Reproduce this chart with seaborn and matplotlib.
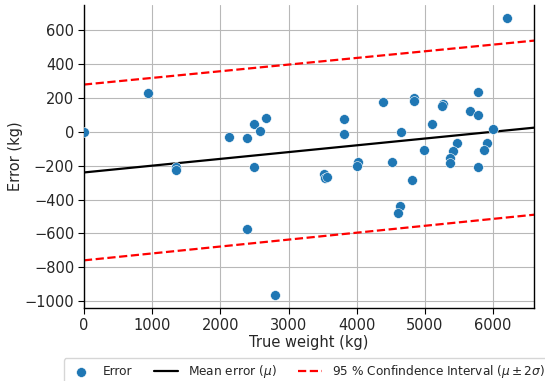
import numpy as np
import pandas as pd
import matplotlib
matplotlib.use("Agg")
import matplotlib.pyplot as plt
import seaborn as sns

# Scatter data: true weight (kg) and error (kg)
true_weight = [0, 940, 1346, 1346, 2125, 2398, 2487, 2580, 2668, 2487,
               2398, 2805, 6207, 5771, 4386, 4846, 4836, 5267, 5247, 5663,
               5771, 3808, 3808, 5110, 4651, 5996, 4988, 5473, 5408, 5364,
               5364, 5908, 5869, 5771, 4019, 4009, 4513, 3520, 3529, 3564,
               4806, 4630, 4606]
error = [0, 233, -205, -225, -30, -34, 49, 8, 83, -205,
         -576, -966, 672, 237, 178, 201, 182, 166, 154, 126,
         101, 79, -12, 49, -2, 20, -105, -67, -112, -154,
         -185, -67, -106, -205, -178, -199, -179, -249, -270, -266,
         -282, -440, -477]

# Line endpoints
line_x = [0, 6600]
mean_y = [-240, 25]
upper_y = [280, 540]
lower_y = [-760, -490]

df = pd.DataFrame({"x": true_weight, "y": error})

sns.set_style("whitegrid")
plt.rcParams["font.family"] = ["DejaVu Sans"]

fig = plt.figure(figsize=(5.45, 3.81), dpi=100)
ax = fig.add_axes([0.154, 0.192, 0.826, 0.795])

sns.scatterplot(data=df, x="x", y="y", ax=ax, s=50, color="#1f77b4",
                edgecolor="white", linewidth=0.4, label="Error", zorder=3)
sns.lineplot(x=line_x, y=mean_y, ax=ax, color="black", linewidth=1.6,
             label=r"Mean error ($\mu$)", zorder=2)
sns.lineplot(x=line_x, y=upper_y, ax=ax, color="red", linewidth=1.6,
             linestyle="--", label=r"95 % Confindence Interval ($\mu \pm 2\sigma$)", zorder=2)
sns.lineplot(x=line_x, y=lower_y, ax=ax, color="red", linewidth=1.6,
             linestyle="--", zorder=2)

ax.set_xlim(0, 6600)
ax.set_ylim(-1041, 751)
ax.set_xticks([0, 1000, 2000, 3000, 4000, 5000, 6000])
ax.set_yticks([-1000, -800, -600, -400, -200, 0, 200, 400, 600])
ax.tick_params(labelsize=10.5, length=4, color="black", left=True, bottom=True, pad=3)
ax.set_xlabel("True weight (kg)", fontsize=10.5, labelpad=2)
ax.set_ylabel("Error (kg)", fontsize=10.5, labelpad=1)
ax.grid(True, color="#b8b8b8", linewidth=0.8)
for side in ["left", "bottom", "right"]:
    ax.spines[side].set_color("black")
    ax.spines[side].set_linewidth(1.0)
ax.spines["top"].set_visible(False)

ax.legend_.remove()
handles, labels = ax.get_legend_handles_labels()
fig.legend(handles, labels, loc="upper left", bbox_to_anchor=(0.106, 0.076),
           ncol=3, fontsize=8.7, frameon=True, columnspacing=1.8)

fig.savefig("out.png", dpi=100)
